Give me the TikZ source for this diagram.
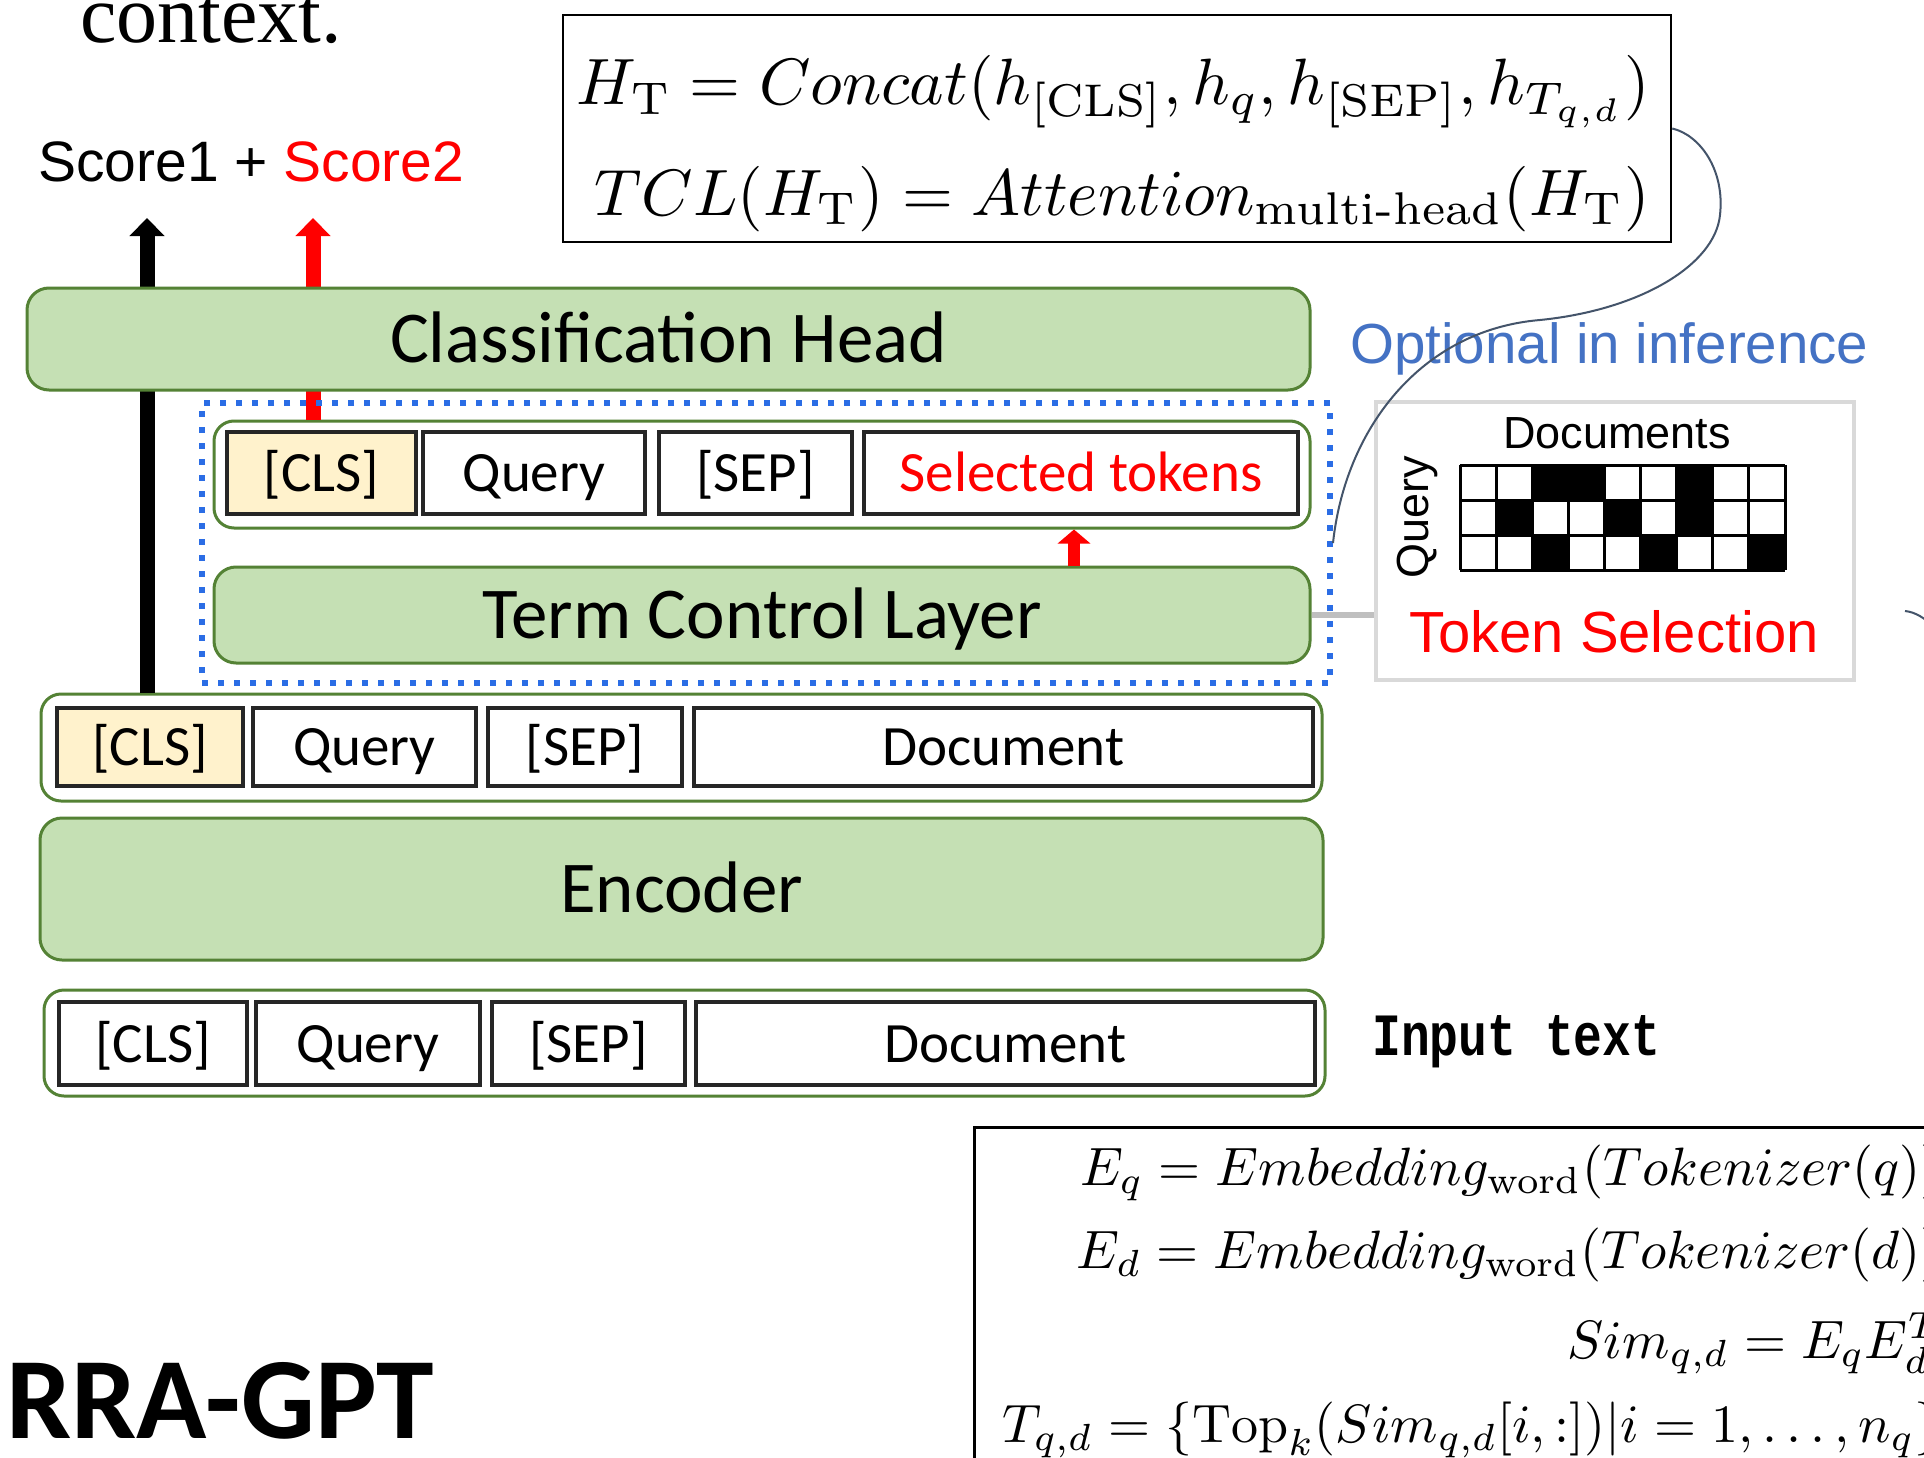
\documentclass[tikz,border=0pt]{standalone}
\usepackage{amsmath}
\usepackage{graphicx}
\usepackage{fontspec}
\usetikzlibrary{arrows.meta}
\newfontfamily\calfont{Carlito}
\newfontfamily\arialfont{Liberation Sans}
\newfontfamily\timesfont{Liberation Serif}
\newfontfamily\inputfont[FakeStretch=0.8]{Liberation Mono}
\definecolor{gfill}{HTML}{C5E0B4}
\definecolor{gdark}{HTML}{548235}
\definecolor{cream}{HTML}{FFF2CC}
\definecolor{dblue}{HTML}{2B6DE5}
\definecolor{optblue}{HTML}{4472C4}
\definecolor{curvec}{HTML}{44546A}
\definecolor{conngray}{HTML}{BFBFBF}
\definecolor{tsgray}{HTML}{D9D9D9}
\definecolor{pured}{HTML}{FF0000}
\tikzset{
  greenbox/.style={draw=gdark, fill=gfill, line width=3pt, rounded corners=22pt, inner sep=0pt,
    font=\calfont\fontsize{73}{88}\selectfont, text height=47pt, text depth=0pt},
  rowbox/.style={draw=gdark, fill=white, line width=3pt, rounded corners=20pt, inner sep=0pt},
  tok/.style={draw=black!85, line width=3.5pt, fill=white, inner sep=0pt,
    font=\calfont\fontsize{57}{68}\selectfont, text height=37pt, text depth=0pt},
  bigarrow/.style={line width=15pt, -{Triangle[width=34pt,length=18pt]}},
  smallarrow/.style={line width=12pt, -{Triangle[width=32pt,length=14pt]}},
  eqbox/.style={draw=black, line width=2.5pt, fill=white, inner sep=0pt},
  basew/.style={anchor=base west, inner sep=0pt},
  basee/.style={anchor=base east, inner sep=0pt},
}
\newcommand{\bigeq}[1]{\scalebox{6.55}{$#1$}}
\newcommand{\boteq}[1]{\scalebox{5.4}{$#1$}}
\begin{document}
\begin{tikzpicture}[x=1pt, y=-1pt]
\useasboundingbox (0,0) rectangle (1924,1458);
\clip (0,0) rectangle (1924,1458);
\fill[white] (0,0) rectangle (1924,1458);

% top text
\node[basew, font=\timesfont\fontsize{82}{98}\selectfont] (ctx) at (80,43) {context.};
\node[basew, font=\arialfont\fontsize{57}{68}\selectfont] (score) at (38,182) {Score1 + \textcolor{pured}{Score2}};

% top equation box
\node[eqbox, minimum width=1108pt, minimum height=227pt] (eqtop) at (1117,128.5) {};
\node[basee] (eq1) at (1650,105)
  {\bigeq{H_{\mathrm{T}} = Concat(h_{\mathrm{[CLS]}}, h_q, h_{\mathrm{[SEP]}}, h_{T_{q,d}})}};
\node[basee] (eq2) at (1650,215)
  {\bigeq{TCL(H_{\mathrm{T}}) = Attention_{\text{multi-head}}(H_{\mathrm{T}})}};

% arrow tips coordinates
\coordinate (tip1) at (147,218);
\coordinate (tip2) at (313,218);
\coordinate (mid) at (1074,0);

% row nodes needed for arrows
\node[rowbox, minimum width=1096pt, minimum height=107pt] (urow) at (762,474.5) {};
\node[rowbox, minimum width=1281pt, minimum height=107pt] (lrow) at (681.5,747.5) {};

\draw[bigarrow, black] (lrow.north -| tip1) -- (tip1);
\draw[bigarrow, pured] (urow.north -| tip2) -- (tip2);

\node[greenbox, minimum width=1283pt, minimum height=102pt] (head) at (668.5,339) {Classification Head};

% upper tokens
\node[tok, fill=cream, minimum width=189pt, minimum height=82pt] (u1) at (321.5,473) {[CLS]};
\node[tok, minimum width=222pt, minimum height=82pt] (u2) at (534,473) {Query};
\node[tok, minimum width=193pt, minimum height=82pt] (u3) at (755.5,473) {[SEP]};
\node[tok, minimum width=434pt, minimum height=82pt, text=pured] (u4) at (1081,473) {Selected tokens};

\node[greenbox, minimum width=1096pt, minimum height=96pt] (tcl) at (762,615) {Term Control Layer};
\draw[smallarrow, pured] (tcl.north -| mid) -- (urow.south -| mid);

% token selection box
\node[draw=tsgray, line width=4pt, fill=white, minimum width=478pt, minimum height=278pt] (ts) at (1615,541) {};
\draw[conngray, line width=6pt] (tcl.east) -- (tcl.east -| ts.west);

% dotted frame
\node[draw=dblue, line width=6pt, dash pattern=on 6pt off 10pt, minimum width=1128pt, minimum height=280pt] (dot) at (766,543) {};

% lower tokens
\node[tok, fill=cream, minimum width=186pt, minimum height=78pt] (l1) at (150,747) {[CLS]};
\node[tok, minimum width=223pt, minimum height=78pt] (l2) at (364.5,747) {Query};
\node[tok, minimum width=194pt, minimum height=78pt] (l3) at (585,747) {[SEP]};
\node[tok, minimum width=619pt, minimum height=78pt] (l4) at (1003.5,747) {Document};

\node[greenbox, minimum width=1283pt, minimum height=142pt] (enc) at (681.5,889) {Encoder};

% input row
\node[rowbox, minimum width=1281pt, minimum height=106pt] (irow) at (684.5,1043) {};
\node[tok, minimum width=188pt, minimum height=83pt] (i1) at (153,1043.5) {[CLS]};
\node[tok, minimum width=224pt, minimum height=83pt] (i2) at (368,1043.5) {Query};
\node[tok, minimum width=193pt, minimum height=83pt] (i3) at (588.5,1043.5) {[SEP]};
\node[tok, minimum width=619pt, minimum height=83pt] (i4) at (1005.5,1043.5) {Document};
\node[basew, font=\inputfont\bfseries\fontsize{60}{72}\selectfont] (inp) at (1372,1055) {Input text};

% token selection content
\node[basew, font=\arialfont\fontsize{56.5}{68}\selectfont, text=optblue] (opt) at (1350,363) {Optional in inference};
\node[anchor=base, inner sep=0pt, font=\arialfont\fontsize{45}{54}\selectfont] (docs) at (1617,448) {Documents};
\node[rotate=90, inner sep=0pt, font=\arialfont\fontsize{45}{54}\selectfont] (qry) at (1417,517) {Query};
\foreach \c/\r in {3/1,4/1,7/1,2/2,5/2,7/2,3/3,6/3,9/3}
  \fill[black] (1460+36.11*\c-36.11, 465+35*\r-35) rectangle ++(36.11,35);
\foreach \i in {0,...,9}
  \draw[black, line width=3pt] (1460+36.11*\i,465) -- ++(0,105);
\foreach \j in {0,...,3}
  \draw[black, line width=3pt] (1460,465+35*\j) -- ++(325,0);
\node[basew, font=\arialfont\fontsize{58}{70}\selectfont, text=pured] (tsel) at (1409,652) {Token Selection};

% connecting curve
\draw[curvec, line width=2pt] (eqtop.east) .. controls (1700,135) and (1725,170) .. (1720,215)
  .. controls (1715,265) and (1640,310) .. (1540,320)
  .. controls (1420,330) and (1345,430) .. (dot.east);
\coordinate (cstart) at (1905,611);
\draw[curvec, line width=2pt] (cstart) .. controls (1915,612) and (1925,618) .. (1935,628);

% bottom equation box
\node[eqbox, anchor=north west, minimum width=1100pt, minimum height=500pt] (eqbot) at (973,1126) {};
\node[basee] (b1) at (1942,1185)
  {\boteq{E_q = Embedding_{\text{word}}(Tokenizer(q))}};
\node[basee] (b2) at (1942,1268)
  {\boteq{E_d = Embedding_{\text{word}}(Tokenizer(d))}};
\node[basee] (b3) at (1942,1358)
  {\boteq{Sim_{q,d} = E_qE_d^T}};
\node[basee] (b4) at (1942,1442)
  {\boteq{T_{q,d} = \{\mathrm{Top}_k(Sim_{q,d}[i,:])|i=1,\ldots,n_q\}}};

\node[basew, font=\calfont\bfseries\fontsize{116}{138}\selectfont] (title) at (6,1438) {RRA-GPT};
\end{tikzpicture}
\end{document}
